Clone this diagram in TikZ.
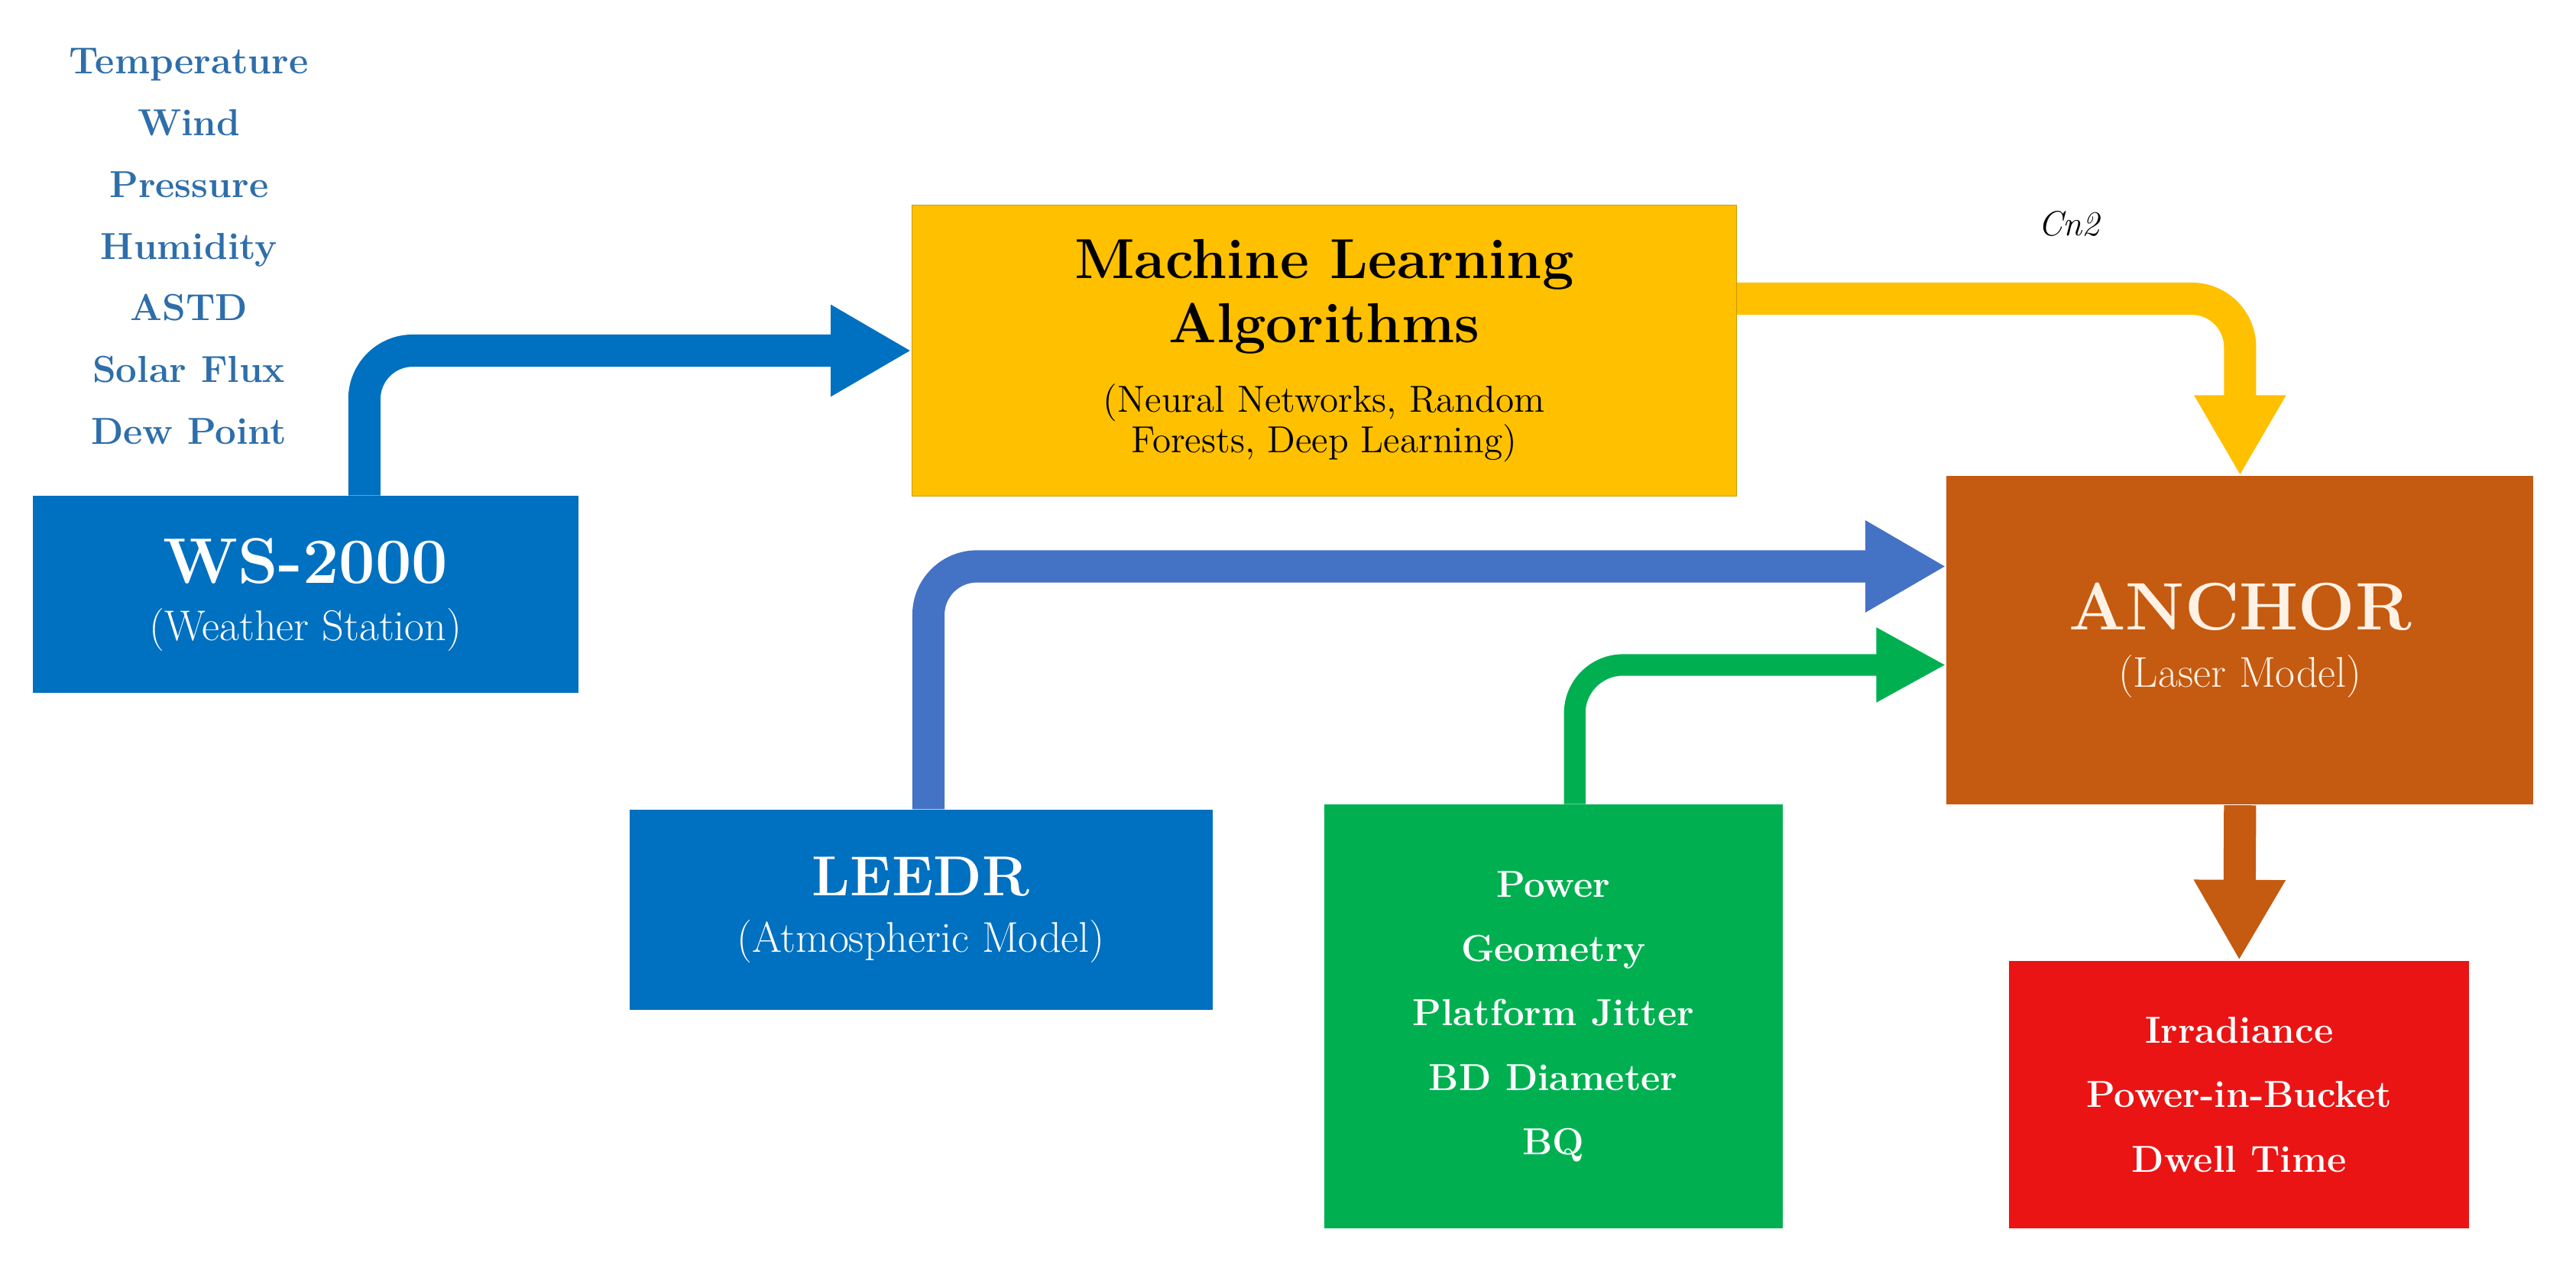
\documentclass[tikz,border=0pt]{standalone}
\usetikzlibrary{arrows.meta,positioning}
\definecolor{wsblue}{RGB}{0,112,192}
\definecolor{lightblue}{RGB}{68,114,196}
\definecolor{mlyellow}{RGB}{255,192,0}
\definecolor{anchorbrown}{RGB}{197,90,17}
\definecolor{paramgreen}{RGB}{0,176,80}
\definecolor{outred}{RGB}{235,20,20}
\definecolor{listblue}{RGB}{46,110,170}
\tikzset{%
  % boxes
        base/.style = {rectangle, align=center, inner sep=2pt},
     station/.style = {base, fill=wsblue, text=white},
     learner/.style = {base, fill=mlyellow, draw=mlyellow!80!black, text=black},
       laser/.style = {base, fill=anchorbrown, text=white!90!orange},
      params/.style = {base, fill=paramgreen, text=white},
     outputs/.style = {base, fill=outred, text=white},
  % thick arrows
        flow/.style = {line width=12pt, rounded corners=18pt,
                       -{Triangle[width=32pt,length=30pt]}},
}
\newcommand{\boxtitle}[2]{{\fontsize{#1}{#1}\selectfont\bfseries #2}}
\newcommand{\boxsub}[1]{{\fontsize{16}{19}\selectfont #1}}

\begin{document}
\begin{tikzpicture}[x=0.0215cm, y=-0.0215cm]
\useasboundingbox (0,0) rectangle (1568,770);

\node (inputs) [align=center, text=listblue, font=\fontsize{14}{23}\selectfont\bfseries]
  at (115,150) {Temperature\\Wind\\Pressure\\Humidity\\ASTD\\Solar Flux\\Dew Point};

\node (ws)     [station, minimum width=7.14cm, minimum height=2.58cm] at (186,362)
  {\boxtitle{24}{WS-2000}\\[8pt]\boxsub{(Weather Station)}};

\node (ml)     [learner, minimum width=10.79cm, minimum height=3.81cm] at (806,213.5)
  {\boxtitle{21}{Machine Learning}\\[4pt]\boxtitle{21}{Algorithms}\\[10pt]
   {\fontsize{14}{17}\selectfont (Neural Networks, Random}\\
   {\fontsize{14}{17}\selectfont Forests, Deep Learning)}};

\node (anchor) [laser, minimum width=7.68cm, minimum height=4.30cm] at (1363.5,390)
  {\boxtitle{25}{ANCHOR}\\[8pt]\boxsub{(Laser Model)}};

\node (leedr)  [station, minimum width=7.63cm, minimum height=2.62cm] at (560.5,554)
  {\boxtitle{21}{LEEDR}\\[8pt]\boxsub{(Atmospheric Model)}};

\node (power)  [params, minimum width=6.0cm, minimum height=5.55cm,
  font=\fontsize{14}{24}\selectfont\bfseries] at (945.5,619)
  {Power\\Geometry\\Platform Jitter\\BD Diameter\\BQ};

\node (result) [outputs, minimum width=6.02cm, minimum height=3.50cm,
  font=\fontsize{14}{24}\selectfont\bfseries] at (1363,666.5)
  {Irradiance\\Power-in-Bucket\\Dwell Time};

\draw[flow, wsblue]      ([xshift=0.77cm]ws.north) |- (ml.west);
\draw[flow, mlyellow]    ([yshift=0.68cm]ml.east) -| (anchor.north)
  node [pos=0.33, above=14pt, text=black, font=\fontsize{13}{15}\selectfont\itshape] (cn) {Cn2};
\draw[flow, lightblue]   ([xshift=0.1cm]leedr.north) |- ([yshift=0.97cm]anchor.west);
\draw[flow, paramgreen, line width=8pt, -{Triangle[width=26pt,length=26pt]}]
                         ([xshift=0.28cm]power.north) |- ([yshift=-0.32cm]anchor.west);
\draw[flow, anchorbrown] (anchor.south) -- (result.north);
\end{tikzpicture}
\end{document}
